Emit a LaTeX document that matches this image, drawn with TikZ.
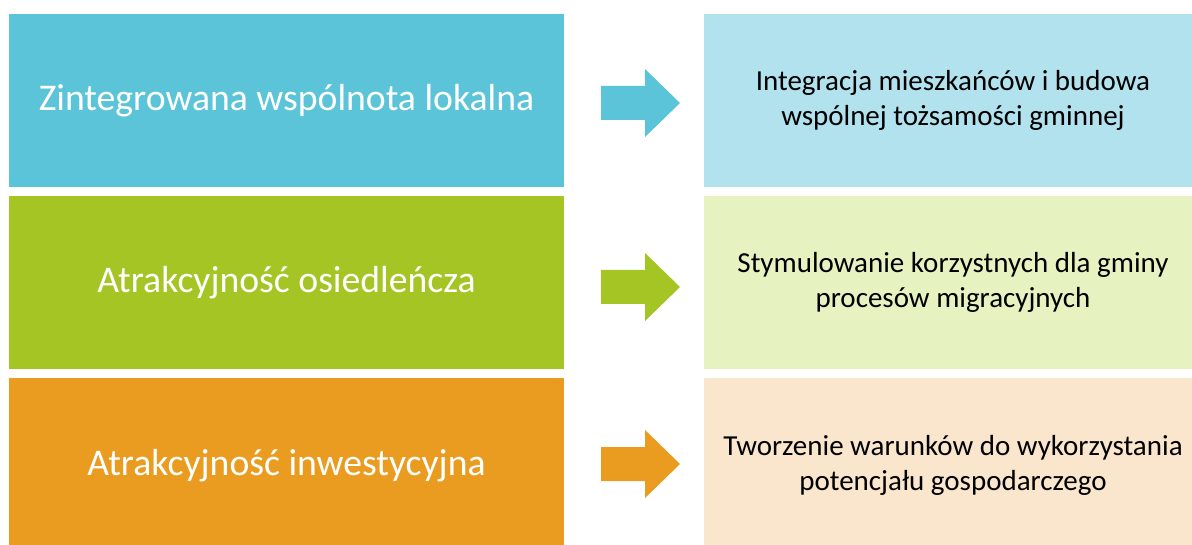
\documentclass[tikz,border=0pt]{standalone}
\usepackage{fontspec}
\setmainfont{Carlito}
\definecolor{cblue}{HTML}{5BC4D9}
\definecolor{cbluel}{HTML}{B1E2EE}
\definecolor{cgreen}{HTML}{A4C523}
\definecolor{cgreenl}{HTML}{E6F2C0}
\definecolor{corange}{HTML}{E99C1F}
\definecolor{corangel}{HTML}{FAE6CD}
\tikzset{
  lbox/.style={anchor=north west, minimum width=555pt, minimum height=173pt, inner sep=0pt, outer sep=0pt, text=white, font=\fontsize{37.7}{45}\selectfont},
  rbox/.style={anchor=north west, minimum width=498pt, minimum height=173pt, inner sep=0pt, outer sep=0pt, text=black, align=center, font=\fontsize{29}{35}\selectfont},
}
\begin{document}
\begin{tikzpicture}[x=1pt,y=-1pt]
\useasboundingbox (0,0) rectangle (1192,545);
\node[lbox, fill=cblue] (l1) at (9,14) {Zintegrowana wspólnota lokalna};
\node[lbox, fill=cgreen] (l2) at (9,196) {Atrakcyjność osiedleńcza};
\node[lbox, fill=corange, minimum height=175pt] (l3) at (9,378) {Atrakcyjność inwestycyjna};
\node[rbox, fill=cbluel] (r1) at (704,14) {Integracja mieszkańców i budowa\\wspólnej tożsamości gminnej};
\node[rbox, fill=cgreenl] (r2) at (704,196) {Stymulowanie korzystnych dla gminy\\procesów migracyjnych};
\node[rbox, fill=corangel, minimum height=175pt] (r3) at (704,378) {Tworzenie warunków do wykorzystania\\potencjału gospodarczego};
\foreach \cy/\col in {103/cblue, 287/cgreen, 464/corange}{
  \fill[\col] (601,\cy-17) -- (645,\cy-17) -- (645,\cy-34) -- (680,\cy) -- (645,\cy+34) -- (645,\cy+17) -- (601,\cy+17) -- cycle;
}
\end{tikzpicture}
\end{document}
